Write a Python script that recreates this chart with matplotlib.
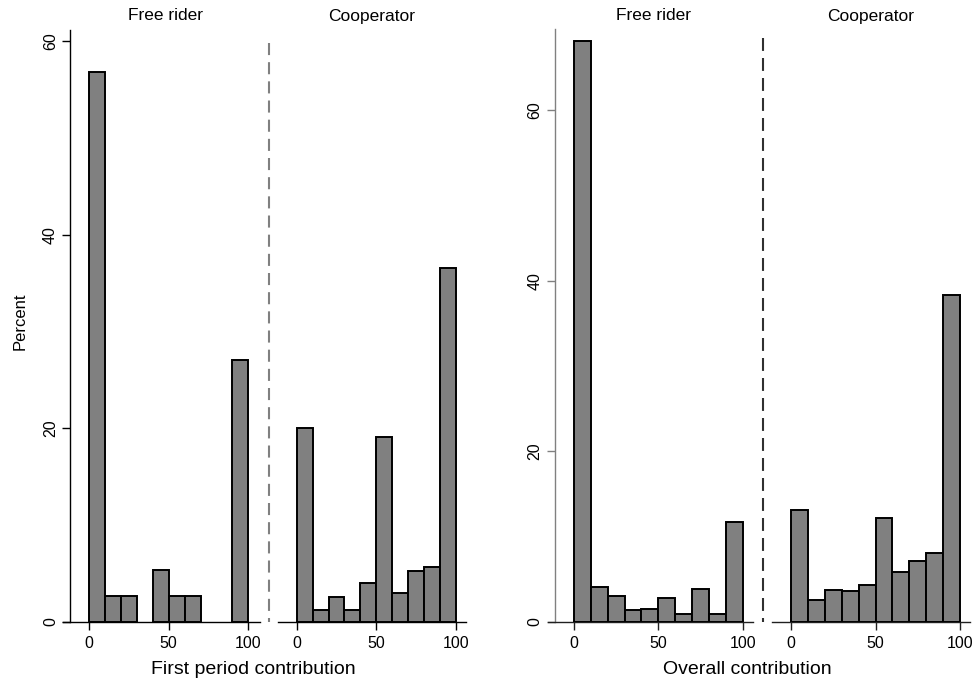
import matplotlib
matplotlib.use("Agg")
import matplotlib.pyplot as plt
from matplotlib.lines import Line2D

plt.rcParams['font.family'] = ['Liberation Sans', 'DejaVu Sans']

# ---------------- data ----------------
bin_left = [0, 10, 20, 30, 40, 50, 60, 70, 80, 90]
bin_width = 10
group_titles = ["Free rider", "Cooperator"]

first_free = [56.76, 2.70, 2.70, 0.0, 5.41, 2.70, 2.70, 0.0, 0.0, 27.03]
first_coop = [20.0, 1.2, 2.6, 1.2, 4.0, 19.1, 3.0, 5.25, 5.65, 36.6]

overall_free = [68.2, 4.05, 3.05, 1.4, 1.55, 2.8, 0.95, 3.9, 0.95, 11.75]
overall_coop = [13.1, 2.6, 3.75, 3.65, 4.3, 12.15, 5.85, 7.1, 8.05, 38.3]

x_ticks = [0, 50, 100]
y_ticks = [0, 20, 40, 60]
x_titles = ["First period contribution", "Overall contribution"]
y_title = "Percent"

# ---------------- layout ----------------
W, H = 974, 682
fig = plt.figure(figsize=(W / 100, H / 100), dpi=100)


def fx(px):
    return px / W


def fy(py):
    return 1 - py / H


def make_ax(x0, x1, ytop, ybot=622):
    return fig.add_axes([fx(x0), fy(ybot), (x1 - x0) / W, (ybot - ytop) / H])


BAR_FC = '#808080'


def style(ax, xlim, ylim, show_y, spine_col, ycol, yspine_pos=None):
    ax.set_xlim(*xlim)
    ax.set_ylim(*ylim)
    ax.spines['top'].set_visible(False)
    ax.spines['right'].set_visible(False)
    ax.spines['bottom'].set_color(spine_col)
    ax.spines['bottom'].set_linewidth(1.0)
    ax.set_xticks(x_ticks)
    ax.tick_params(axis='x', direction='out', length=6, width=1.0,
                   color=spine_col, labelsize=11.5, pad=4)
    if show_y:
        ax.spines['left'].set_color(ycol)
        ax.spines['left'].set_linewidth(1.0)
        if yspine_pos is not None:
            ax.spines['left'].set_position(('data', yspine_pos))
        ax.set_yticks(y_ticks)
        ax.tick_params(axis='y', direction='out', length=6, width=1.0,
                       color=ycol, labelsize=11.5, pad=3)
        for lab in ax.get_yticklabels():
            lab.set_rotation(90)
            lab.set_va('center')
    else:
        ax.spines['left'].set_visible(False)
        ax.set_yticks([])
    ax.patch.set_alpha(0)


def draw_bars(ax, vals):
    lws = [1.4 if v > 0 else 0 for v in vals]
    ax.bar(bin_left, vals, width=bin_width, align='edge', color=BAR_FC,
           edgecolor='black', linewidth=lws, zorder=3)


# Left panel: first period contribution
ax1 = make_ax(63.3, 260, 29.5)
draw_bars(ax1, first_free)
style(ax1, (-16.1, 107.3), (0, 61.2), True, 'black', 'black', -11.6)

ax2 = make_ax(278.3, 466, 29.5)
draw_bars(ax2, first_coop)
style(ax2, (-11.5, 106.2), (0, 61.2), False, 'black', 'black')

# Right panel: overall contribution
ax3 = make_ax(548.3, 753.3, 29.5)
draw_bars(ax3, overall_free)
style(ax3, (-15.2, 106.3), (0, 69.5), True, '#202020', '#808080', -11.3)

ax4 = make_ax(772.3, 970, 29.5)
draw_bars(ax4, overall_coop)
style(ax4, (-11.1, 105.9), (0, 69.5), False, '#202020', '#808080')

# subplot titles
for xc, t in zip([165.4, 372, 654, 871], group_titles * 2):
    fig.text(fx(xc), fy(16), t, ha='center', va='center', fontsize=12.5)

# separators
fig.add_artist(Line2D([fx(269.3)] * 2, [fy(43), fy(622)], transform=fig.transFigure,
                      color='#808080', linewidth=1.5, linestyle=(0, (5.8, 3.4))))
fig.add_artist(Line2D([fx(763.3)] * 2, [fy(38), fy(622)], transform=fig.transFigure,
                      color='#303030', linewidth=1.5, linestyle=(0, (6.2, 3.4))))

# axis titles
fig.text(fx(20), fy(321), y_title, rotation=90, ha='center', va='center', fontsize=12)
fig.text(fx(253.5), fy(669), x_titles[0], ha='center', va='center', fontsize=14)
fig.text(fx(747.5), fy(669), x_titles[1], ha='center', va='center', fontsize=14)

fig.savefig('out.png', dpi=100)
